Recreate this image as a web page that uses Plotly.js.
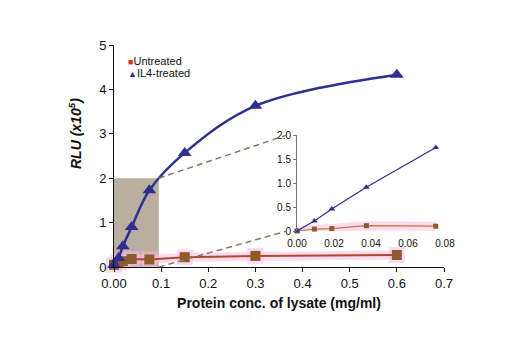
<!DOCTYPE html>
<html>
<head>
<meta charset="utf-8">
<script src="https://cdn.plot.ly/plotly-3.0.1.min.js"></script>
<style>html,body{margin:0;padding:0;background:#fff;}#chart{width:520px;height:350px;}</style>
</head>
<body>
<div id="chart"></div>
<script>
// Main chart data (protein conc. mg/ml vs RLU x10^5)
var conc = [0, 0.0094, 0.0188, 0.0375, 0.075, 0.15, 0.3, 0.6];
var il4Main = [0.05, 0.2, 0.47, 0.9, 1.73, 2.57, 3.63, 4.33];
var untreatedMain = [0.05, 0.1, 0.13, 0.18, 0.17, 0.22, 0.25, 0.27];
// Inset data (low-concentration range)
var concInset = [0, 0.0094, 0.0188, 0.0375, 0.075];
var il4Inset = [0, 0.21, 0.46, 0.91, 1.74];
var untreatedInset = [0, 0.04, 0.05, 0.11, 0.1];
// Zoom box
var zoomBoxX = [0, 0.095];
var zoomBoxY = [0, 2.0];
// Tick labels
var mainXTicks = [0, 0.1, 0.2, 0.3, 0.4, 0.5, 0.6, 0.7];
var mainXLabels = ['0.00', '0.1', '0.2', '0.3', '0.4', '0.5', '0.6', '0.7'];
var mainYTicks = [0, 1, 2, 3, 4, 5];
var insetXTicks = [0, 0.02, 0.04, 0.06, 0.08];
var insetXLabels = ['0.00', '0.02', '0.04', '0.06', '0.08'];
var insetYTicks = [0, 0.5, 1.0, 1.5, 2.0];
var insetYLabels = ['0', '0.5', '1.0', '1.5', '2.0'];
var seriesNames = ['Untreated', 'IL4-treated'];

var W = 520, H = 350;
var xDom = [114 / W, 444 / W];
var yDom = [1 - 267 / H, 1 - 45 / H];
var x2Dom = [297 / W, 445 / W];
var y2Dom = [1 - 231 / H, 1 - 135 / H];
var xRange = [0, 0.7], yRange = [0, 5];
var x2Range = [0, 0.08], y2Range = [0, 2];

function px(v, dom, rng) { return dom[0] + (v - rng[0]) / (rng[1] - rng[0]) * (dom[1] - dom[0]); }

var FONT = 'Liberation Sans, Arial, sans-serif';
var blue = '#2E2F8E';
var brown = '#8E5A2A';
var redLine = '#B4472A';
var pink = 'rgba(248,190,232,0.55)';

var traces = [
  // pink glow behind untreated (main)
  {x: conc, y: untreatedMain, xaxis: 'x', yaxis: 'y', mode: 'lines+markers', hoverinfo: 'skip',
   line: {color: pink, width: 9}, marker: {symbol: 'square', size: 16, color: pink}, cliponaxis: false},
  {x: conc, y: untreatedMain, xaxis: 'x', yaxis: 'y', mode: 'lines+markers', name: seriesNames[0],
   line: {color: redLine, width: 2}, marker: {symbol: 'square', size: 10, color: brown}, cliponaxis: false},
  {x: conc, y: il4Main, xaxis: 'x', yaxis: 'y', mode: 'lines+markers', name: seriesNames[1],
   line: {color: blue, width: 2.5, shape: 'spline', smoothing: 1.0}, marker: {symbol: 'triangle-up', size: 12, color: blue}, cliponaxis: false},
  // inset
  {x: concInset, y: untreatedInset, xaxis: 'x2', yaxis: 'y2', mode: 'lines', hoverinfo: 'skip',
   line: {color: pink, width: 9}, cliponaxis: false},
  {x: concInset, y: untreatedInset, xaxis: 'x2', yaxis: 'y2', mode: 'lines+markers', name: seriesNames[0],
   line: {color: '#C77A2E', width: 1.2}, marker: {symbol: 'square', size: 5, color: brown}, cliponaxis: false},
  {x: concInset, y: il4Inset, xaxis: 'x2', yaxis: 'y2', mode: 'lines+markers', name: seriesNames[1],
   line: {color: blue, width: 1.2}, marker: {symbol: 'triangle-up', size: 6, color: blue}, cliponaxis: false}
];

var bx1 = px(zoomBoxX[1], xDom, xRange);
var byTop = px(zoomBoxY[1], yDom, yRange);
var byBot = px(zoomBoxY[0], yDom, yRange);
var insetLeft = px(x2Range[0], x2Dom, x2Range) - 10 / W;
var insetTop = px(y2Range[1], y2Dom, y2Range);
var insetBot = px(y2Range[0], y2Dom, y2Range);

var shapes = [
  {type: 'rect', xref: 'x', yref: 'y', x0: zoomBoxX[0], x1: zoomBoxX[1], y0: zoomBoxY[0], y1: zoomBoxY[1],
   fillcolor: '#B9AE9F', line: {width: 0}, layer: 'below'},
  {type: 'line', xref: 'paper', yref: 'paper', x0: bx1, y0: byTop, x1: insetLeft, y1: insetTop,
   line: {color: '#857A6B', width: 1.5, dash: '6px,4px'}},
  {type: 'line', xref: 'paper', yref: 'paper', x0: bx1, y0: byBot, x1: insetLeft, y1: insetBot,
   line: {color: '#857A6B', width: 1.5, dash: '6px,4px'}}
];

var annotations = [
  {xref: 'paper', yref: 'paper', x: 75 / W, y: 1 - 134 / H, xanchor: 'center', yanchor: 'middle', textangle: -90,
   showarrow: false, text: '<b><i>RLU (x10<sup>5</sup>)</i></b>', font: {size: 14, family: FONT, color: '#111'}},
  {xref: 'paper', yref: 'paper', x: 126 / W, y: 1 - 61 / H, xanchor: 'left', yanchor: 'middle', showarrow: false,
   text: '<span style="color:#E2302A;font-size:9px">■</span>' + seriesNames[0], font: {size: 11, family: FONT, color: '#111'}},
  {xref: 'paper', yref: 'paper', x: 126 / W, y: 1 - 73 / H, xanchor: 'left', yanchor: 'middle', showarrow: false,
   text: '<span style="color:' + blue + ';font-size:9px">▲</span>' + seriesNames[1], font: {size: 11, family: FONT, color: '#111'}}
];

var layout = {
  width: W, height: H,
  margin: {l: 0, r: 0, t: 0, b: 0},
  paper_bgcolor: '#fff', plot_bgcolor: 'rgba(0,0,0,0)',
  font: {family: FONT, color: '#111', size: 12},
  showlegend: false,
  xaxis: {domain: xDom, range: xRange, tickvals: mainXTicks, ticktext: mainXLabels, showgrid: false, zeroline: false,
          showline: true, linecolor: '#111', linewidth: 1, ticks: 'outside', ticklen: 4, tickcolor: '#111',
          tickfont: {size: 13, family: FONT},
          title: {text: '<b>Protein conc. of lysate (mg/ml)</b>', font: {size: 14, family: FONT}, standoff: 8}},
  yaxis: {domain: yDom, range: yRange, tickvals: mainYTicks, showgrid: false, zeroline: false,
          showline: true, linecolor: '#111', linewidth: 1, ticks: 'outside', ticklen: 4, tickcolor: '#111',
          tickfont: {size: 13, family: FONT}},
  xaxis2: {domain: x2Dom, range: x2Range, anchor: 'y2', tickvals: insetXTicks, ticktext: insetXLabels,
           showgrid: false, zeroline: false, showline: false, ticks: '', ticklabelstandoff: 5,
           tickfont: {size: 10, family: FONT}},
  yaxis2: {domain: y2Dom, range: y2Range, anchor: 'x2', tickvals: insetYTicks, ticktext: insetYLabels,
           showgrid: false, zeroline: false, showline: true, linecolor: '#777', linewidth: 1,
           ticks: 'outside', ticklen: 3, tickcolor: '#777', tickfont: {size: 10, family: FONT}},
  shapes: shapes,
  annotations: annotations
};

Plotly.newPlot('chart', traces, layout, {displayModeBar: false, staticPlot: true});
</script>
</body>
</html>
